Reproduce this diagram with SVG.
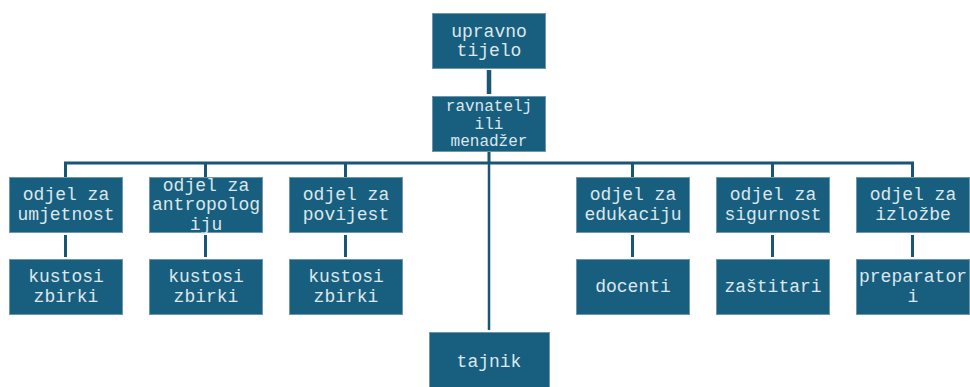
<svg xmlns="http://www.w3.org/2000/svg" width="970" height="387" viewBox="0 0 970 387">
<style>
.b{fill:#175E7F;stroke:#6d97ac;stroke-width:1}
.t{font-family:"Liberation Mono","Courier New",monospace;font-size:18px;fill:#dde7ec;text-anchor:middle}
.s{font-size:16px}
.c{stroke:#1b5574;fill:none}
</style>
<rect width="970" height="387" fill="#ffffff"/>
<g id="connectors">
<line class="c" x1="489" y1="70" x2="489" y2="94" stroke-width="4.5"/>
<line class="c" x1="489" y1="152" x2="489" y2="163" stroke-width="3"/>
<line class="c" x1="64" y1="163" x2="914" y2="163" stroke-width="3"/>
<line class="c" x1="65.5" y1="163" x2="65.5" y2="177" stroke-width="3"/>
<line class="c" x1="205.5" y1="163" x2="205.5" y2="177" stroke-width="3"/>
<line class="c" x1="345.5" y1="163" x2="345.5" y2="177" stroke-width="3"/>
<line class="c" x1="632.5" y1="163" x2="632.5" y2="177" stroke-width="3"/>
<line class="c" x1="772.5" y1="163" x2="772.5" y2="177" stroke-width="3"/>
<line class="c" x1="912.5" y1="163" x2="912.5" y2="177" stroke-width="3"/>
<line class="c" x1="65.5" y1="235" x2="65.5" y2="257" stroke-width="3"/>
<line class="c" x1="205.5" y1="235" x2="205.5" y2="257" stroke-width="3"/>
<line class="c" x1="345.5" y1="235" x2="345.5" y2="257" stroke-width="3"/>
<line class="c" x1="632.5" y1="235" x2="632.5" y2="257" stroke-width="3"/>
<line class="c" x1="772.5" y1="235" x2="772.5" y2="257" stroke-width="3"/>
<line class="c" x1="912.5" y1="235" x2="912.5" y2="257" stroke-width="3"/>
<line class="c" x1="489" y1="163" x2="489" y2="330" stroke-width="2.5"/>
</g>
<g id="upravno">
<rect class="b" x="432.5" y="13.5" width="113" height="55"/>
<text class="t" x="489" y="36.5">upravno</text>
<text class="t" x="489" y="56">tijelo</text>
</g>
<g id="ravnatelj">
<rect class="b" x="432.5" y="96.5" width="113" height="55"/>
<text class="t s" x="489" y="111">ravnatelj</text>
<text class="t s" x="489" y="128.5">ili</text>
<text class="t s" x="489" y="146">menadžer</text>
</g>
<g id="umjetnost">
<rect class="b" x="9.5" y="177.5" width="113" height="55"/>
<text class="t" x="66" y="200">odjel za</text>
<text class="t" x="66" y="219.5">umjetnost</text>
</g>
<g id="antropologija">
<rect class="b" x="149.5" y="177.5" width="113" height="55"/>
<text class="t" x="206" y="190.5">odjel za</text>
<text class="t" x="206" y="210">antropolog</text>
<text class="t" x="206" y="229.5">iju</text>
</g>
<g id="povijest">
<rect class="b" x="289.5" y="177.5" width="113" height="55"/>
<text class="t" x="346" y="200">odjel za</text>
<text class="t" x="346" y="219.5">povijest</text>
</g>
<g id="edukacija">
<rect class="b" x="576.5" y="177.5" width="113" height="55"/>
<text class="t" x="633" y="200">odjel za</text>
<text class="t" x="633" y="219.5">edukaciju</text>
</g>
<g id="sigurnost">
<rect class="b" x="716.5" y="177.5" width="113" height="55"/>
<text class="t" x="773" y="200">odjel za</text>
<text class="t" x="773" y="219.5">sigurnost</text>
</g>
<g id="izlozbe">
<rect class="b" x="856.5" y="177.5" width="113" height="55"/>
<text class="t" x="913" y="200">odjel za</text>
<text class="t" x="913" y="219.5">izložbe</text>
</g>
<g id="kustosi1">
<rect class="b" x="9.5" y="259.5" width="113" height="55"/>
<text class="t" x="66" y="282">kustosi</text>
<text class="t" x="66" y="301.5">zbirki</text>
</g>
<g id="kustosi2">
<rect class="b" x="149.5" y="259.5" width="113" height="55"/>
<text class="t" x="206" y="282">kustosi</text>
<text class="t" x="206" y="301.5">zbirki</text>
</g>
<g id="kustosi3">
<rect class="b" x="289.5" y="259.5" width="113" height="55"/>
<text class="t" x="346" y="282">kustosi</text>
<text class="t" x="346" y="301.5">zbirki</text>
</g>
<g id="docenti">
<rect class="b" x="576.5" y="259.5" width="113" height="55"/>
<text class="t" x="633" y="291.5">docenti</text>
</g>
<g id="zastitari">
<rect class="b" x="716.5" y="259.5" width="113" height="55"/>
<text class="t" x="773" y="291.5">zaštitari</text>
</g>
<g id="preparatori">
<rect class="b" x="856.5" y="259.5" width="113" height="55"/>
<text class="t" x="913" y="282">preparator</text>
<text class="t" x="913" y="301.5">i</text>
</g>
<g id="tajnik">
<rect class="b" x="429.5" y="332.5" width="120" height="57"/>
<text class="t" x="489" y="366.5">tajnik</text>
</g>
</svg>
